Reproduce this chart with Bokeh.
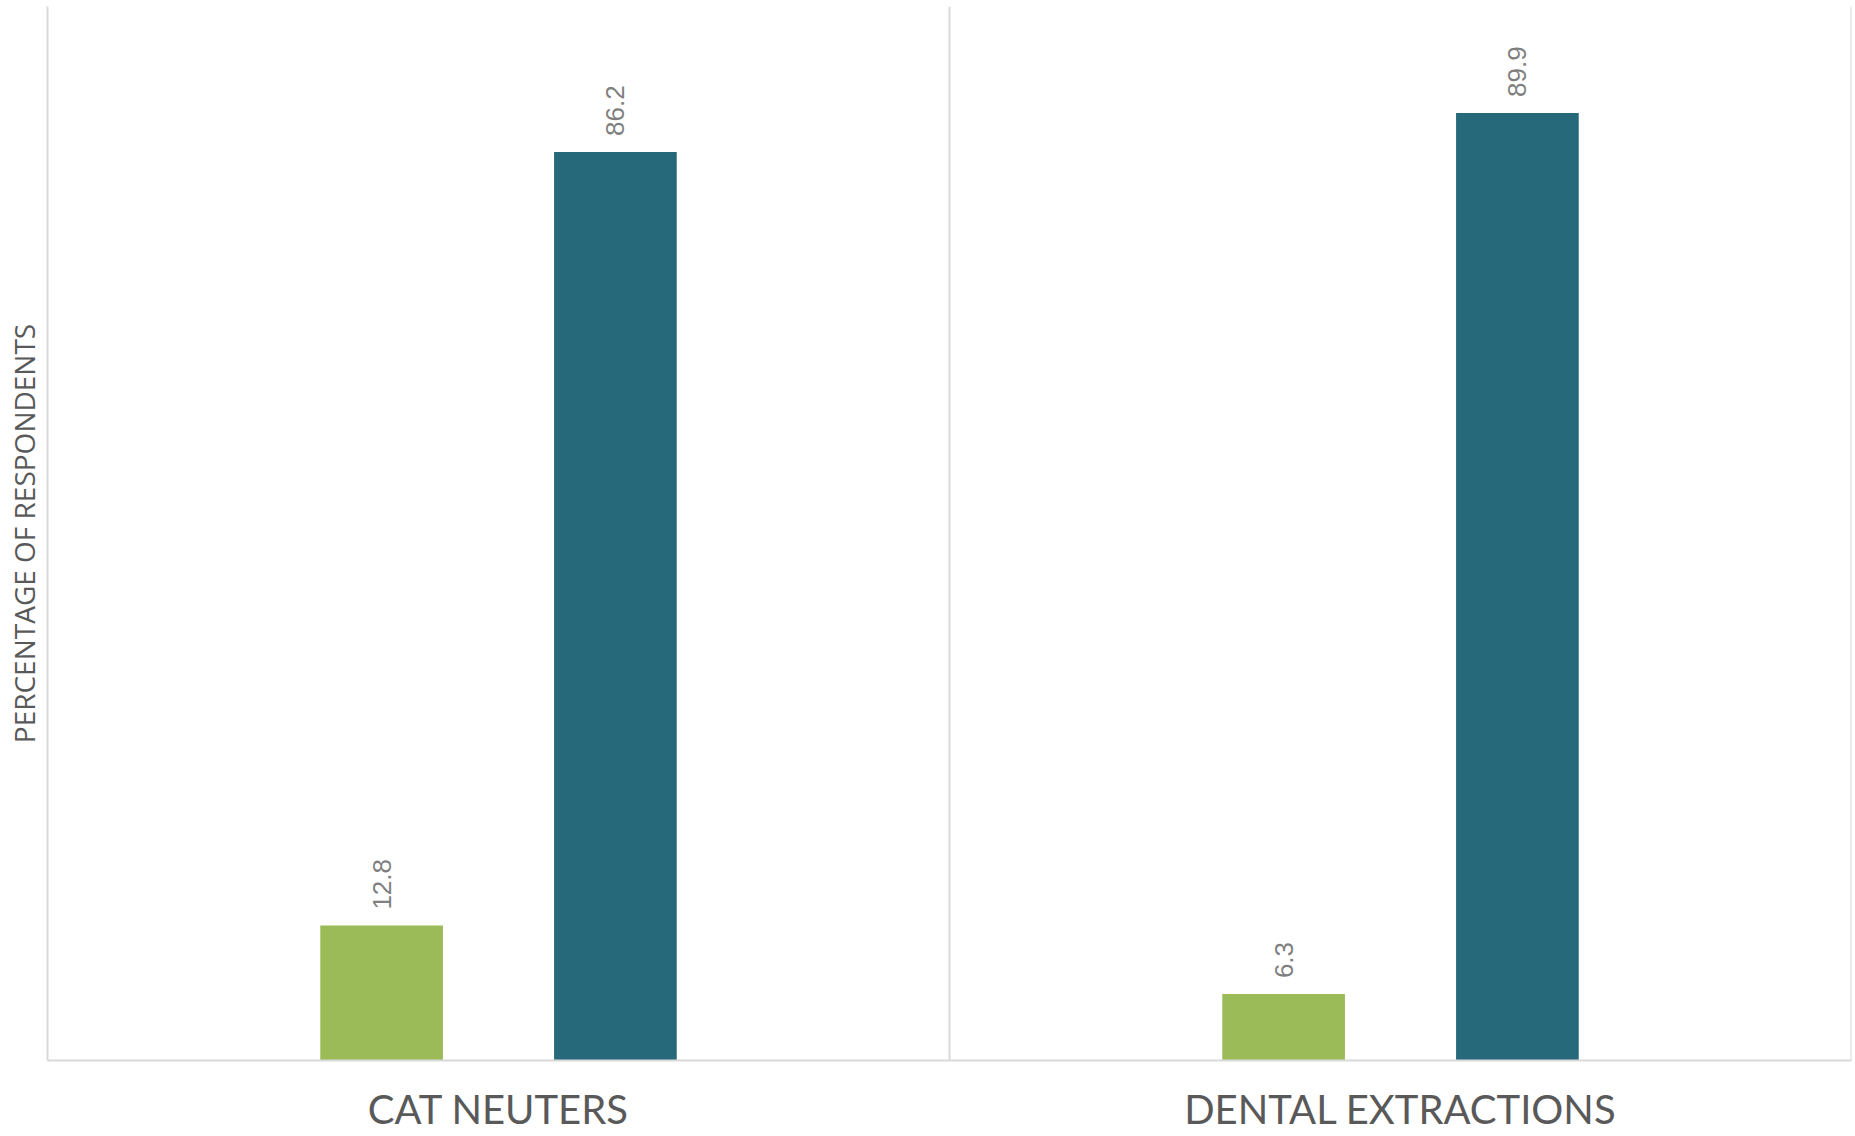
from math import pi
from bokeh.plotting import figure
from bokeh.models import FactorRange, Range1d, ColumnDataSource, Span, FixedTicker
from bokeh.transform import dodge
from bokeh.core.properties import value
from bokeh.embed import file_html
from bokeh.resources import INLINE

categories = ["CAT NEUTERS", "DENTAL EXTRACTIONS"]
series_a = [12.8, 6.3]
series_b = [86.2, 89.9]
label_a = ["12.8", "6.3"]
label_b = ["86.2", "89.9"]
y_title = "PERCENTAGE OF RESPONDENTS"

GREEN = "#9BBB59"
TEAL = "#26697A"
GRID = "#D9D9D9"
FONT = "Open Sans"
CAT_FONT = "Lato"
NUM_FONT = "Liberation Sans"

src = ColumnDataSource(dict(cat=categories, a=series_a, b=series_b, la=label_a, lb=label_b))

p = figure(
    width=1855, height=1136,
    x_range=FactorRange(factors=categories, range_padding=0),
    y_range=Range1d(0, 100),
    output_backend="svg", toolbar_location=None,
    min_border_left=47, min_border_right=4, min_border_top=6, min_border_bottom=76,
)
p.outline_line_color = None
p.background_fill_color = "white"
p.border_fill_color = "white"
p.xgrid.grid_line_color = None
p.ygrid.grid_line_color = None

bw = 0.136
off = 0.1296
p.vbar(x=dodge("cat", -off, range=p.x_range), top="a", width=bw, source=src,
       fill_color=GREEN, line_color=None)
p.vbar(x=dodge("cat", off, range=p.x_range), top="b", width=bw, source=src,
       fill_color=TEAL, line_color=None)

for col, lab, o in (("a", "la", -off), ("b", "lb", off)):
    p.text(x=dodge("cat", o, range=p.x_range), y=col, text=lab, source=src,
           angle=pi / 2, text_align="left", text_baseline="middle",
           y_offset=-16, text_font=value(NUM_FONT), text_font_size="26px",
           text_color="#7F7F7F")

for loc in (1, 2):
    p.add_layout(Span(location=loc, dimension="height", line_color=GRID, line_width=2))

# x axis
xa = p.xaxis[0]
xa.axis_line_color = GRID
xa.axis_line_width = 2
xa.major_tick_line_color = None
xa.minor_tick_line_color = None
xa.major_tick_out = 0
xa.major_label_text_font = CAT_FONT
xa.major_label_text_font_size = "40px"
xa.major_label_text_color = "#595959"
xa.major_label_standoff = 24

# y axis
ya = p.yaxis[0]
ya.ticker = FixedTicker(ticks=[])
ya.axis_line_color = GRID
ya.axis_line_width = 2
ya.major_tick_line_color = None
ya.minor_tick_line_color = None
ya.major_tick_out = 0
ya.major_label_standoff = 0
ya.axis_label = y_title
ya.axis_label_text_font = FONT
ya.axis_label_text_font_size = "28px"
ya.axis_label_text_font_style = "normal"
ya.axis_label_text_color = "#595959"
ya.axis_label_standoff = 5

open("out.html", "w").write(file_html(p, INLINE))
